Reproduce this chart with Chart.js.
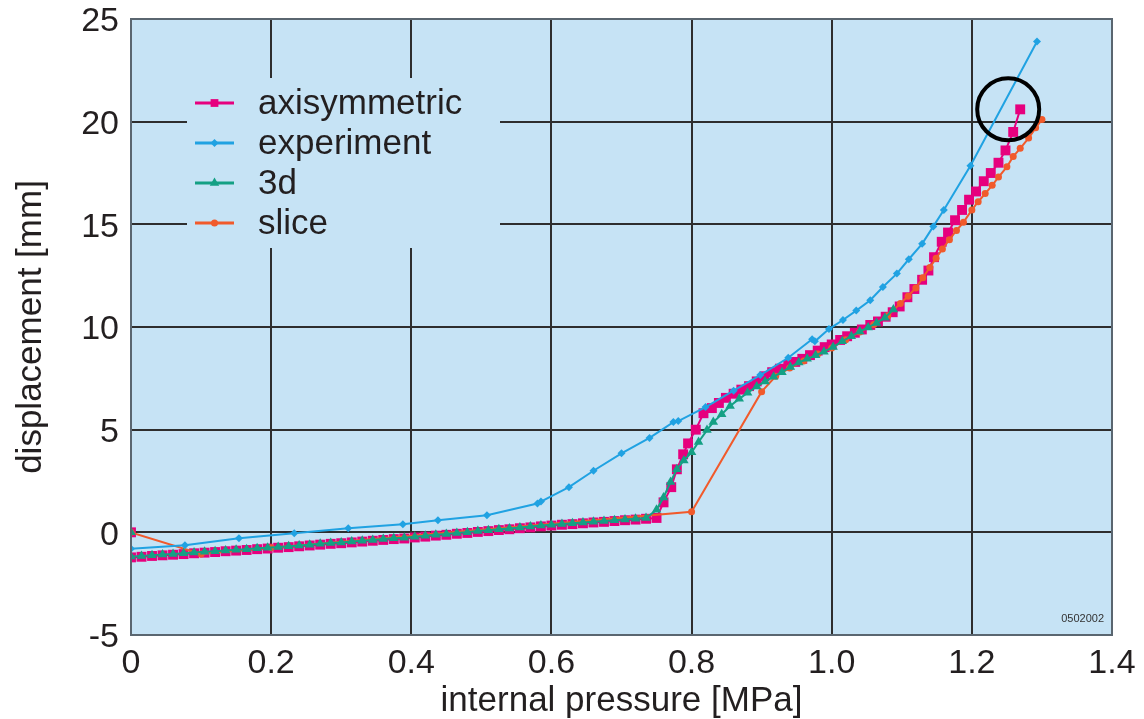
<!DOCTYPE html>
<html>
<head>
<meta charset="utf-8">
<script src="https://cdn.jsdelivr.net/npm/chart.js@4.4.1/dist/chart.umd.min.js"></script>
<style>
  html, body { margin: 0; padding: 0; background: #ffffff; }
  #wrap { width: 1144px; height: 719px; }
</style>
</head>
<body>
<div id="wrap"><canvas id="c" width="1144" height="719"></canvas></div>
<script>
// Series names and axis labels
const seriesNames = ['axisymmetric', 'experiment', '3d', 'slice'];
const xTickLabels = ['0', '0.2', '0.4', '0.6', '0.8', '1.0', '1.2', '1.4'];
const xTitle = 'internal pressure [MPa]';
const yTitle = 'displacement [mm]';
const drawingCode = '0502002';

// axisymmetric model: pressure [MPa] / displacement [mm]
const axiP = [0, 0, 0.015, 0.03, 0.045, 0.06, 0.075, 0.09, 0.105, 0.12, 0.135, 0.15, 0.165, 0.18, 0.195,
  0.21, 0.225, 0.24, 0.255, 0.27, 0.285, 0.3, 0.315, 0.33, 0.345, 0.36, 0.375, 0.39, 0.405, 0.42, 0.435,
  0.45, 0.465, 0.48, 0.495, 0.51, 0.525, 0.54, 0.555, 0.57, 0.585, 0.6, 0.615, 0.63, 0.645, 0.66, 0.675,
  0.69, 0.705, 0.72, 0.735, 0.75,
  0.76, 0.771, 0.779, 0.788, 0.795, 0.806, 0.817, 0.829, 0.839, 0.849,
  0.86, 0.871, 0.882, 0.893, 0.904, 0.915, 0.926, 0.938, 0.948, 0.958,
  0.969, 0.98, 0.99, 1.0, 1.012, 1.022, 1.033, 1.043, 1.055, 1.066,
  1.077, 1.087, 1.097, 1.108, 1.118, 1.129, 1.138, 1.146, 1.157, 1.166,
  1.176, 1.186, 1.196, 1.206, 1.217, 1.227, 1.238, 1.248, 1.259, 1.269];
const axiD = [0, -1.22, -1.19, -1.15, -1.12, -1.09, -1.06, -1.02, -0.99, -0.96, -0.92, -0.89, -0.86, -0.82, -0.79,
  -0.75, -0.72, -0.68, -0.64, -0.60, -0.56, -0.53, -0.49, -0.45, -0.41, -0.37, -0.33, -0.30, -0.25, -0.21, -0.16,
  -0.12, -0.07, -0.03, 0.02, 0.06, 0.11, 0.15, 0.20, 0.24, 0.29, 0.33, 0.37, 0.40, 0.44, 0.48, 0.51,
  0.55, 0.59, 0.62, 0.66, 0.70,
  1.46, 2.2, 3.07, 3.8, 4.33, 5.0, 5.8, 6.05, 6.3, 6.55,
  6.75, 6.95, 7.12, 7.35, 7.6, 7.8, 7.97, 8.15, 8.3, 8.45,
  8.63, 8.85, 9.02, 9.15, 9.37, 9.55, 9.72, 9.88, 10.1, 10.27,
  10.5, 10.72, 11.0, 11.45, 11.85, 12.3, 12.75, 13.4, 14.15, 14.6,
  15.2, 15.7, 16.2, 16.6, 17.1, 17.5, 18.0, 18.6, 19.5, 20.6];

// measured values
const expP = [0, 0.077, 0.154, 0.233, 0.31, 0.388, 0.438, 0.508, 0.58, 0.585,
  0.625, 0.66, 0.70, 0.74, 0.774, 0.781, 0.82, 0.86, 0.898, 0.938,
  0.972, 0.976, 0.996, 1.016, 1.035, 1.055, 1.073, 1.093, 1.11, 1.129,
  1.145, 1.16, 1.198, 1.293];
const expD = [-0.8, -0.63, -0.29, -0.05, 0.2, 0.39, 0.59, 0.83, 1.4, 1.5,
  2.2, 3.0, 3.85, 4.6, 5.37, 5.42, 6.1, 6.9, 7.66, 8.5,
  9.4, 9.3, 9.9, 10.34, 10.8, 11.3, 11.95, 12.6, 13.3, 14.05,
  14.9, 15.7, 17.85, 23.9];

// full 3d model
const solidP = [0, 0, 0.015, 0.03, 0.045, 0.06, 0.075, 0.09, 0.105, 0.12, 0.135, 0.15, 0.165, 0.18, 0.195,
  0.21, 0.225, 0.24, 0.255, 0.27, 0.285, 0.3, 0.315, 0.33, 0.345, 0.36, 0.375, 0.39, 0.405, 0.42, 0.435,
  0.45, 0.465, 0.48, 0.495, 0.51, 0.525, 0.54, 0.555, 0.57, 0.585, 0.6, 0.615, 0.63, 0.645, 0.66, 0.675,
  0.69, 0.705, 0.72, 0.735,
  0.75, 0.76, 0.77, 0.779, 0.789, 0.8, 0.81, 0.822, 0.831, 0.843,
  0.855, 0.868, 0.88, 0.893, 0.905, 0.917, 0.929, 0.941, 0.953, 0.965,
  0.977, 0.989, 1.002, 1.015, 1.028, 1.04, 1.052, 1.064, 1.076, 1.088];
const solidD = [0, -1.18, -1.15, -1.11, -1.08, -1.05, -1.02, -0.98, -0.95, -0.92, -0.88, -0.85, -0.82, -0.78, -0.75,
  -0.71, -0.68, -0.64, -0.60, -0.56, -0.52, -0.49, -0.45, -0.41, -0.37, -0.33, -0.29, -0.26, -0.21, -0.17, -0.12,
  -0.08, -0.03, 0.01, 0.06, 0.10, 0.15, 0.19, 0.24, 0.28, 0.33, 0.37, 0.41, 0.44, 0.48, 0.52, 0.55,
  0.59, 0.63, 0.66, 0.70,
  1.1, 1.7, 2.45, 3.07, 3.5, 3.9, 4.4, 4.98, 5.37, 5.75,
  6.15, 6.5, 6.8, 7.1, 7.35, 7.58, 7.8, 8.05, 8.27, 8.45,
  8.62, 8.8, 9.02, 9.3, 9.55, 9.78, 9.98, 10.2, 10.45, 10.85];

// slice model
const sliceP = [0, 0.1, 0.2, 0.8, 0.9, 0.92, 0.94, 0.96, 0.98, 1.0,
  1.02, 1.04, 1.06, 1.08, 1.098, 1.109, 1.12, 1.13, 1.14, 1.149,
  1.158, 1.168, 1.178, 1.188, 1.2, 1.209, 1.219, 1.229, 1.238, 1.25,
  1.259, 1.269, 1.281, 1.291, 1.3];
const sliceD = [0, -1.05, -0.75, 1.0, 6.85, 7.6, 8.0, 8.35, 8.68, 8.98,
  9.38, 9.76, 10.12, 10.55, 11.15, 11.5, 11.9, 12.4, 12.9, 13.35,
  13.8, 14.25, 14.7, 15.1, 15.7, 16.1, 16.5, 16.9, 17.3, 17.8,
  18.3, 18.7, 19.2, 19.7, 20.1];

const colors = { axi: '#e6007e', exp: '#20a2e2', solid: '#14a084', slice: '#f15a2b' };
const plotBg = '#c6e3f5';
const inkColor = '#231f20';
const fontFamily = '"Liberation Sans", Arial, Helvetica, sans-serif';

const zip = (xs, ys) => xs.map((x, i) => ({ x: x, y: ys[i] }));

const datasets = [
  { label: seriesNames[0], data: zip(axiP, axiD), borderColor: colors.axi, backgroundColor: colors.axi,
    pointStyle: 'rect', pointRadius: 7, borderWidth: 2, pointBorderWidth: 0, order: 4 },
  { label: seriesNames[1], data: zip(expP, expD), borderColor: colors.exp, backgroundColor: colors.exp,
    pointStyle: 'rectRot', pointRadius: 4, borderWidth: 2, pointBorderWidth: 0, order: 1 },
  { label: seriesNames[2], data: zip(solidP, solidD), borderColor: colors.solid, backgroundColor: colors.solid,
    pointStyle: 'triangle', pointRadius: 5.5, borderWidth: 2, pointBorderWidth: 0, order: 2 },
  { label: seriesNames[3], data: zip(sliceP, sliceD), borderColor: colors.slice, backgroundColor: colors.slice,
    pointStyle: 'circle', pointRadius: 3.5, borderWidth: 2, pointBorderWidth: 0, order: 3 }
];

// Plot background, legend box, legend entries, axis titles and the marker circle
const decor = {
  id: 'decor',
  beforeDraw(chart) {
    const { ctx, chartArea: a } = chart;
    ctx.save();
    ctx.fillStyle = '#ffffff';
    ctx.fillRect(0, 0, chart.width, chart.height);
    ctx.fillStyle = plotBg;
    ctx.fillRect(a.left, a.top, a.right - a.left, a.bottom - a.top);
    ctx.restore();
  },
  beforeDatasetsDraw(chart) {
    const { ctx } = chart;
    ctx.save();
    ctx.fillStyle = plotBg;
    ctx.fillRect(187, 78, 313, 170);
    ctx.restore();
  },
  afterDraw(chart) {
    const { ctx, chartArea: a } = chart;
    ctx.save();
    // frame
    ctx.strokeStyle = '#5a6670';
    ctx.lineWidth = 2;
    ctx.strokeRect(a.left, a.top, a.right - a.left, a.bottom - a.top);

    // legend
    chart.data.datasets.forEach((ds, row) => {
      const y = 103 + row * 40;
      ctx.strokeStyle = ds.borderColor;
      ctx.lineWidth = 3;
      ctx.beginPath();
      ctx.moveTo(195, y);
      ctx.lineTo(234, y);
      ctx.stroke();
      ctx.fillStyle = ds.backgroundColor;
      Chart.helpers.drawPoint(ctx, { pointStyle: ds.pointStyle, radius: Math.min(ds.pointRadius, 5.5), rotation: 0, borderWidth: 0 }, 214.5, y);
      ctx.fillStyle = inkColor;
      ctx.font = '35px ' + fontFamily;
      ctx.textAlign = 'left';
      ctx.textBaseline = 'middle';
      ctx.fillText(ds.label, 258, y + 1);
    });

    // axis titles
    ctx.fillStyle = inkColor;
    ctx.font = '35px ' + fontFamily;
    ctx.textAlign = 'center';
    ctx.textBaseline = 'middle';
    ctx.fillText(xTitle, (a.left + a.right) / 2, 701);
    ctx.save();
    ctx.translate(31, (a.top + a.bottom) / 2);
    ctx.rotate(-Math.PI / 2);
    ctx.fillText(yTitle, 0, 0);
    ctx.restore();

    // drawing code in the lower right corner
    ctx.font = '11px "Liberation Sans Narrow", "Liberation Sans", Arial, sans-serif';
    ctx.textAlign = 'right';
    ctx.textBaseline = 'middle';
    ctx.fillStyle = '#333333';
    ctx.fillText(drawingCode, a.right - 8, a.bottom - 16);

    // ring around the last axisymmetric point
    const meta = chart.getDatasetMeta(0);
    const last = meta.data[meta.data.length - 1];
    ctx.strokeStyle = '#000000';
    ctx.lineWidth = 4;
    ctx.beginPath();
    ctx.arc(last.x - 12, last.y, 31, 0, Math.PI * 2);
    ctx.stroke();
    ctx.restore();
  }
};

new Chart(document.getElementById('c'), {
  type: 'line',
  data: { datasets: datasets },
  options: {
    responsive: false,
    animation: false,
    devicePixelRatio: 1,
    events: [],
    layout: { padding: { left: 0, top: 19, right: 32, bottom: 0 } },
    elements: { line: { tension: 0 } },
    plugins: { legend: { display: false }, tooltip: { enabled: false } },
    scales: {
      x: {
        type: 'linear', min: 0, max: 1.4,
        afterFit(s) { s.height = 84; s.paddingLeft = 0; s.paddingRight = 0; },
        ticks: {
          stepSize: 0.2, padding: 8, color: inkColor,
          font: { size: 34, family: fontFamily },
          callback: (v, i) => xTickLabels[i],
          maxRotation: 0, autoSkip: false
        },
        grid: { color: '#2e2e2e', lineWidth: 2, drawTicks: false },
        border: { display: false }
      },
      y: {
        type: 'linear', min: -5, max: 25,
        afterFit(s) { s.width = 131; s.paddingTop = 0; s.paddingBottom = 0; },
        ticks: {
          stepSize: 5, padding: 12, labelOffset: 3, color: inkColor,
          font: { size: 34, family: fontFamily }
        },
        grid: { color: '#2e2e2e', lineWidth: 2, drawTicks: false },
        border: { display: false }
      }
    }
  },
  plugins: [decor]
});
</script>
</body>
</html>
